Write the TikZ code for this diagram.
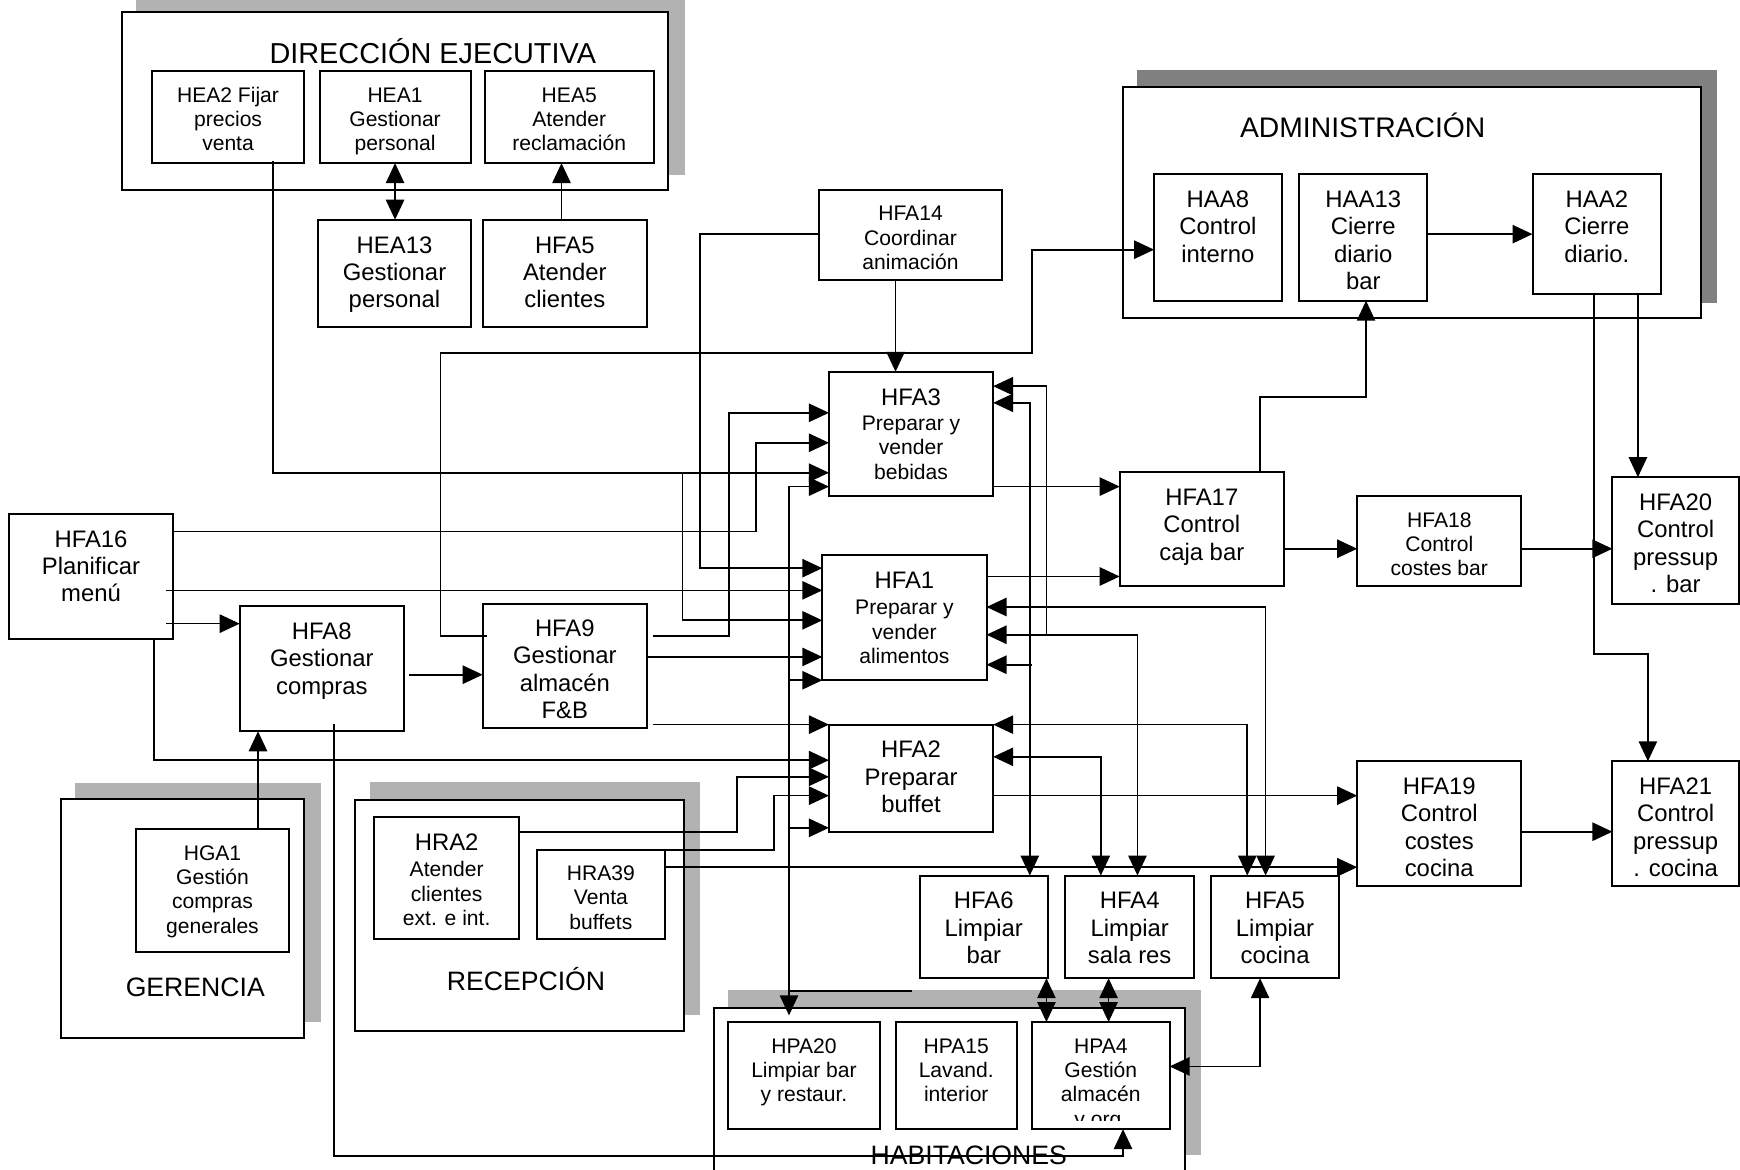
\documentclass[tikz,border=0pt]{standalone}
\usepackage{fontspec}
\setmainfont{Liberation Sans}
\usetikzlibrary{arrows.meta,calc}

\definecolor{shadelight}{gray}{0.7}
\definecolor{shadedark}{gray}{0.5}

\newcommand\bigtxt{\fontsize{21.5}{24.7}\selectfont}
\newcommand\smalltxt{\fontsize{19}{22}\selectfont}

\tikzset{
  procframe/.style={draw, line width=1.8pt, fill=white, rectangle, inner sep=0pt, outer sep=0pt},
  groupframe/.style={draw, line width=1.8pt, fill=white, rectangle, inner sep=0pt, outer sep=0pt},
  grouptitle/.style={anchor=base, inner sep=0pt},
  wire/.style={line width=1.5pt},
  flow/.style={wire, -{Triangle[length=18pt,width=16.5pt]}},
  both/.style={wire, {Triangle[length=18pt,width=16.5pt]}-{Triangle[length=18pt,width=16.5pt]}},
}

% process box: name, x1, y1, x2, y2, first baseline offset, text
\newcommand\procbox[7]{%
  \node[procframe, minimum width={#4-#2}, minimum height={#5-#3}] (#1) at ({(#2+#4)/2},{(#3+#5)/2}) {};
  \begin{scope}
    \clip (#2+2,#3+2) rectangle (#4-2,#5-8);
    \node[anchor=base, inner sep=0pt] (#1-txt) at ({(#2+#4)/2},{#3+#6})
      {\parbox[t]{\dimexpr#4pt-#2pt\relax}{\centering #7}};
  \end{scope}}

% department box: name, x1, y1, x2, y2
\newcommand\groupbox[5]{%
  \node[groupframe, minimum width={#4-#2}, minimum height={#5-#3}] (#1) at ({(#2+#4)/2},{(#3+#5)/2}) {};}

\begin{document}
\begin{tikzpicture}[x=1pt, y=-1pt]
\useasboundingbox (0,0) rectangle (1568,1054);

% shadows of the department boxes
\fill[shadelight] (123,-5) rectangle (617,158);
\fill[shadedark] (1025,63) rectangle (1547,273);
\fill[shadelight] (68,706) rectangle (289,921);
\fill[shadelight] (333,705) rectangle (631,915);
\fill[shadelight] (656,892) rectangle (1082,1041);

% departments
\groupbox{dirG}{110}{11}{602}{171}
\groupbox{admG}{1012}{78}{1533}{287}
\groupbox{gerG}{55}{720}{274}{935}
\groupbox{recG}{320}{720.5}{616}{929}
\groupbox{habG}{643}{908}{1068}{1062}

\node[grouptitle, font=\fontsize{26}{30}\selectfont] (dirT) at (390,57) {DIRECCIÓN EJECUTIVA};
\node[grouptitle, font=\fontsize{25.5}{30}\selectfont] (admT) at (1228,124) {ADMINISTRACIÓN};
\node[grouptitle, font=\fontsize{24}{28}\selectfont] (gerT) at (176,898) {GERENCIA};
\node[grouptitle, font=\fontsize{24}{28}\selectfont] (recT) at (474,893) {RECEPCIÓN};
\node[grouptitle, font=\fontsize{24}{28}\selectfont] (habT) at (873,1049) {HABITACIONES};

% processes
\procbox{hea2}{137}{64}{274}{147}{28}{\smalltxt HEA2 Fijar\\precios\\venta}
\procbox{hea1}{288}{64}{424}{147}{28}{\smalltxt HEA1\\Gestionar\\personal}
\procbox{hea5}{437}{64}{589}{147}{28}{\smalltxt HEA5\\Atender\\reclamación}
\procbox{hea13}{287}{198}{424}{295}{30}{\bigtxt HEA13\\Gestionar\\personal}
\procbox{hfa5t}{435}{198}{583}{295}{30}{\bigtxt HFA5\\Atender\\clientes}
\procbox{hfa14}{738}{171}{903}{252}{28}{\smalltxt HFA14\\Coordinar\\animación}
\procbox{haa8}{1040}{157}{1155}{271}{30}{\bigtxt HAA8\\Control\\interno}
\procbox{haa13}{1171}{157}{1286}{271}{30}{\bigtxt HAA13\\Cierre\\diario\\bar}
\procbox{haa2}{1381}{157}{1497}{265}{30}{\bigtxt HAA2\\Cierre\\diario.}
\procbox{hfa3}{747}{335}{895}{447}{30}{\bigtxt HFA3\\[1pt]\smalltxt Preparar y\\vender\\bebidas}
\procbox{hfa1}{741}{500}{889}{613}{30}{\bigtxt HFA1\\[2pt]\smalltxt Preparar y\\vender\\alimentos}
\procbox{hfa2}{747}{653}{895}{749.5}{30}{\bigtxt HFA2\\Preparar\\buffet}
\procbox{hfa16}{8}{463}{156}{576}{30}{\bigtxt HFA16\\Planificar\\menú}
\procbox{hfa8}{216}{546}{364}{659}{30}{\bigtxt HFA8\\Gestionar\\compras}
\procbox{hfa9}{435}{544}{583}{656}{29.5}{\bigtxt HFA9\\Gestionar\\almacén\\F\&B}
\procbox{hfa17}{1009}{425}{1157}{528}{30.5}{\bigtxt HFA17\\Control\\caja bar}
\procbox{hfa18}{1223}{447}{1371}{528}{28}{\smalltxt HFA18\\Control\\costes bar}
\procbox{hfa20}{1453}{430}{1567}{544}{30}{\bigtxt HFA20\\Control\\pressup\\. bar}
\procbox{hfa19}{1223}{686}{1371}{798.5}{30}{\bigtxt HFA19\\Control\\costes\\cocina}
\procbox{hfa21}{1453}{686}{1567}{798.5}{30}{\bigtxt HFA21\\Control\\pressup\\. cocina}
\procbox{hfa6}{829}{789}{944}{881.5}{30}{\bigtxt HFA6\\Limpiar\\bar}
\procbox{hfa4}{960}{789}{1076}{881.5}{30}{\bigtxt HFA4\\Limpiar\\sala res}
\procbox{hfa5}{1091}{789}{1207}{881.5}{30}{\bigtxt HFA5\\Limpiar\\cocina}
\procbox{hpa20}{656}{921}{793}{1017.5}{28}{\smalltxt HPA20\\Limpiar bar\\y restaur.}
\procbox{hpa15}{807}{921}{916.5}{1017.5}{28}{\smalltxt HPA15\\Lavand.\\interior}
\procbox{hpa4}{930}{921}{1054}{1017.5}{28}{\smalltxt HPA4\\Gestión\\almacén\\y org.}
\procbox{hga1}{123}{747}{260}{858}{28}{\smalltxt HGA1\\Gestión\\compras\\generales}
\procbox{hra2}{337}{736}{468}{846}{30}{\bigtxt HRA2\\[2pt]\smalltxt Atender\\clientes\\ext. e int.}
\procbox{hra39}{484}{766}{599}{846}{27.5}{\smalltxt HRA39\\Venta\\buffets}

% executive management links
\draw[both] (hea1.south) -- (hea1.south |- hea13.north);
\draw[flow] (506,0 |- hfa5t.north) -- (506,0 |- hea5.south);
\draw[flow] ($(246,0 |- hea2.south)+(0,-2)$) -- (246,426) -- (hfa3.west |- 0,426);
\draw[flow] (615,426) -- (615,559) -- (hfa1.west |- 0,559);

% entertainment
\draw[flow] (807,0 |- hfa14.south) -- (807,0 |- hfa3.north);
\draw[flow] (hfa14.west |- 0,211) -- (631,211) -- (631,512) -- (hfa1.west |- 0,512);

% store to internal control
\draw[flow] ($(hfa9.west |- 0,573)+(3.5,0)$) -- (397,573) -- (397,318) -- (930,318) -- (930,225) -- (haa8.west |- 0,225);

% administration
\draw[flow] (haa13.east |- 0,211) -- (haa2.west |- 0,211);
\draw[flow] (1135.5,0 |- hfa17.north) -- (1135.5,358) -- (1231,358) -- (1231,0 |- haa13.south);
\draw[flow] (1476,0 |- haa2.south) -- (1476,0 |- hfa20.north);
\draw[flow] (1436.5,0 |- haa2.south) -- (1436.5,589.5) -- (1485,589.5) -- (1485,0 |- hfa21.north);

% menu planning
\draw[flow] (hfa16.east |- 0,479) -- (681,479) -- (681,399) -- (hfa3.west |- 0,399);
\draw[flow] ($(hfa16.east |- 0,532)+(-6,0)$) -- (hfa1.west |- 0,532);
\draw[flow] ($(hfa16.east |- 0,562)+(-6,0)$) -- (hfa8.west |- 0,562);
\draw[flow] (139,0 |- hfa16.south) -- (139,685) -- (hfa2.west |- 0,685);

% purchasing
\draw[flow] ($(hfa8.east |- 0,608)+(5,0)$) -- (hfa9.west |- 0,608);
\draw[flow] (232.5,0 |- hga1.north) -- (232.5,0 |- hfa8.south);
\draw[flow] ($(301,0 |- hfa8.south)+(0,-7)$) -- (301,1042) -- (1012,1042) -- (1012,0 |- hpa4.south);

% F&B store
\draw[flow] ($(hfa9.east |- 0,573)+(5,0)$) -- (657,573) -- (657,372) -- (hfa3.west |- 0,372);
\draw[flow] (hfa9.east |- 0,592) -- (hfa1.west |- 0,592);
\draw[flow] ($(hfa9.east |- 0,653)+(5,0)$) -- (hfa2.west |- 0,653);

% bar and restaurant cleaning line
\draw[wire] (822,893) -- (711,893);
\draw[flow] (711,893) -- (711,438.5) -- (hfa3.west |- 0,438.5);
\draw[flow] (711,613) -- (hfa1.west |- 0,613);
\draw[flow] (711,746) -- (hfa2.west |- 0,746);
\draw[flow, shorten >=6pt] (711,893) -- (711,0 |- hpa20.north);

% controls
\draw[flow] (hfa3.east |- 0,438.5) -- (hfa17.west |- 0,438.5);
\draw[flow] (hfa1.east |- 0,519.5) -- (hfa17.west |- 0,519.5);
\draw[flow] (hfa17.east |- 0,494.5) -- (hfa18.west |- 0,494.5);
\draw[flow] (hfa18.east |- 0,494.5) -- (hfa20.west |- 0,494.5);
\draw[flow] (hfa2.east |- 0,717) -- (hfa19.west |- 0,717);
\draw[flow] (hfa19.east |- 0,749.5) -- (hfa21.west |- 0,749.5);
\draw[flow] (hra39.east |- 0,781.5) -- (hfa19.west |- 0,781.5);

% reception
\draw[flow] (hra39.north west) -- (697.5,766) -- (697.5,717) -- (hfa2.west |- 0,717);
\draw[flow] (hra2.east |- 0,749.5) -- (664,749.5) -- (664,700) -- (hfa2.west |- 0,700);

% cleaning
\draw[both] (hfa3.east |- 0,363) -- (928,363) -- (928,0 |- hfa6.north);
\draw[flow] (930,599) -- (hfa1.east |- 0,599);
\draw[flow] (943,572) -- (943,348) -- (hfa3.east |- 0,348);
\draw[both] (hfa1.east |- 0,572) -- (1025,572) -- (1025,0 |- hfa4.north);
\draw[both] (hfa1.east |- 0,547) -- (1140.5,547) -- (1140.5,0 |- hfa5.north);
\draw[both] (hfa2.east |- 0,653) -- (1124,653) -- (1124,0 |- hfa5.north);
\draw[both] (hfa2.east |- 0,682) -- (992,682) -- (992,0 |- hfa4.north);
\draw[both] (943,0 |- hfa6.south) -- (943,0 |- hpa4.north);
\draw[both] (999,0 |- hfa4.south) -- (999,0 |- hpa4.north);
\draw[both] (1135.5,0 |- hfa5.south) -- (1135.5,961) -- (hpa4.east |- 0,961);
\end{tikzpicture}
\end{document}
